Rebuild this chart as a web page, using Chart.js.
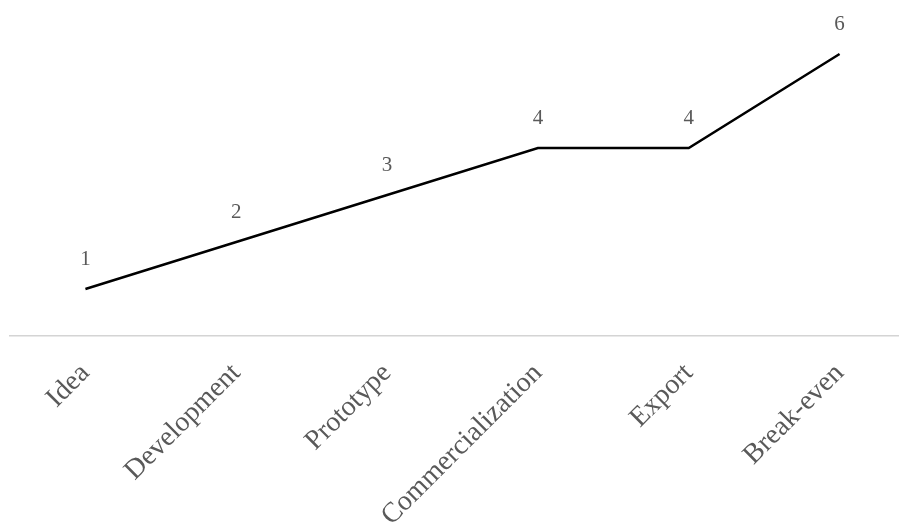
<!DOCTYPE html>
<html>
<head>
<meta charset="utf-8">
<script src="https://cdn.jsdelivr.net/npm/chart.js@4/dist/chart.umd.min.js"></script>
<style>
  html, body { margin: 0; padding: 0; background: #fff; overflow: hidden; }
  #wrap { position: relative; width: 916px; height: 525px; }
</style>
</head>
<body>
<div id="wrap"><canvas id="chart"></canvas></div>
<script>
// Stages of the product path and the level reached at each
const stages = ['Idea', 'Development', 'Prototype', 'Commercialization', 'Export', 'Break-even'];
const levels = [1, 2, 3, 4, 4, 6];

const serif = '"Liberation Serif", "Times New Roman", serif';
const labelGray = '#595959';

// Writes each point's value just above it
const valueLabels = {
  id: 'valueLabels',
  afterDatasetsDraw(chart) {
    const ctx = chart.ctx;
    const meta = chart.getDatasetMeta(0);
    const data = chart.data.datasets[0].data;
    ctx.save();
    ctx.font = '21px ' + serif;
    ctx.fillStyle = labelGray;
    ctx.textAlign = 'center';
    ctx.textBaseline = 'middle';
    meta.data.forEach((pt, i) => {
      ctx.fillText(String(data[i]), pt.x, pt.y - 30);
    });
    ctx.restore();
  }
};

new Chart(document.getElementById('chart'), {
  type: 'line',
  data: {
    labels: stages,
    datasets: [{
      data: levels,
      borderColor: '#000000',
      borderWidth: 2.5,
      pointRadius: 0,
      tension: 0,
      fill: false
    }]
  },
  options: {
    responsive: true,
    maintainAspectRatio: false,
    animation: false,
    layout: { padding: { left: 10, right: 1, top: 7, bottom: 0 } },
    plugins: {
      legend: { display: false },
      tooltip: { enabled: false }
    },
    scales: {
      x: {
        offset: true,
        grid: { display: false, drawTicks: false },
        border: { display: true, color: '#d4d4d4', width: 1.5 },
        ticks: {
          color: labelGray,
          font: { family: serif, size: 28 },
          minRotation: 45,
          maxRotation: 45,
          padding: 21,
          autoSkip: false
        },
        afterFit(scale) { scale.height = 189; }
      },
      y: {
        display: false,
        min: 0,
        max: 7
      }
    }
  },
  plugins: [valueLabels]
});
</script>
</body>
</html>
